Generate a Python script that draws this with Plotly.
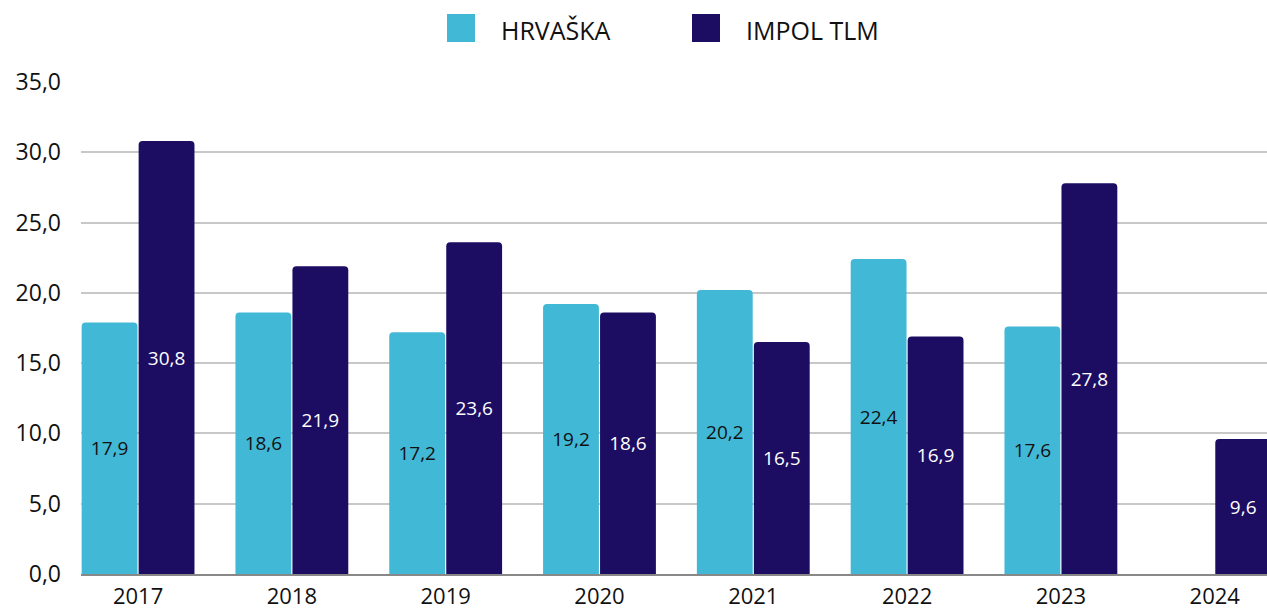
import plotly.graph_objects as go

years = ["2017", "2018", "2019", "2020", "2021", "2022", "2023", "2024"]
hrvaska = [17.9, 18.6, 17.2, 19.2, 20.2, 22.4, 17.6, None]
impol = [30.8, 21.9, 23.6, 18.6, 16.5, 16.9, 27.8, 9.6]
series_names = ["HRVAŠKA", "IMPOL TLM"]
colors = ["#41B8D6", "#1C0D63"]
text_colors = ["#111111", "#FFFFFF"]

W, H = 1267, 610
ML, MR, MT, MB = 81, 0, 82, 36
FONT = "Open Sans"

fig = go.Figure()
for name, vals, col, tcol in zip(series_names, [hrvaska, impol], colors, text_colors):
    fig.add_trace(go.Bar(
        x=years, y=vals, name=name, showlegend=False,
        marker=dict(color=col, cornerradius=4, line=dict(width=0)),
        texttemplate="%{y:.1f}", textposition="inside", insidetextanchor="middle",
        textfont=dict(family=FONT, size=19, color=tcol),
        textangle=0, cliponaxis=True,
    ))

# custom legend (large square markers)
pw, ph = W - ML - MR, H - MT - MB
def px2x(px):
    return (px - ML) / pw
def py2y(py):
    return (H - MB - py) / ph

legend_items = [(447, 499), (692, 744)]
shapes = []
annotations = []
for (mx, tx), name, col in zip(legend_items, series_names, colors):
    shapes.append(dict(type="rect", xref="paper", yref="paper",
                       x0=px2x(mx), x1=px2x(mx + 28), y0=py2y(42), y1=py2y(14),
                       fillcolor=col, line=dict(width=0)))
    annotations.append(dict(xref="paper", yref="paper", x=px2x(tx), y=py2y(30),
                            text=name, showarrow=False, xanchor="left", yanchor="middle",
                            font=dict(family=FONT, size=25, color="#111111")))

fig.update_layout(
    width=W, height=H,
    margin=dict(l=ML, r=MR, t=MT, b=MB, pad=0, autoexpand=False),
    paper_bgcolor="white", plot_bgcolor="white",
    barmode="group", bargap=0.259, bargroupgap=0.02,
    separators=",.",
    showlegend=False,
    shapes=shapes, annotations=annotations,
    font=dict(family=FONT, color="#111111"),
    xaxis=dict(type="category", range=[-0.371, 7.34], showgrid=False,
               showline=True, linecolor="#888888", linewidth=2,
               ticks="", tickfont=dict(family=FONT, size=22, color="#111111"),
               ticklabelstandoff=2, automargin=False),
    yaxis=dict(range=[0, 35], tickvals=[0, 5, 10, 15, 20, 25, 30, 35],
               tickformat=".1f", showgrid=True, gridcolor="#C8C8C8", gridwidth=2,
               zeroline=False, showline=False, ticks="",
               tickfont=dict(family=FONT, size=23, color="#111111"),
               ticklabelstandoff=19, automargin=False),
)

fig.write_html("out.html")
